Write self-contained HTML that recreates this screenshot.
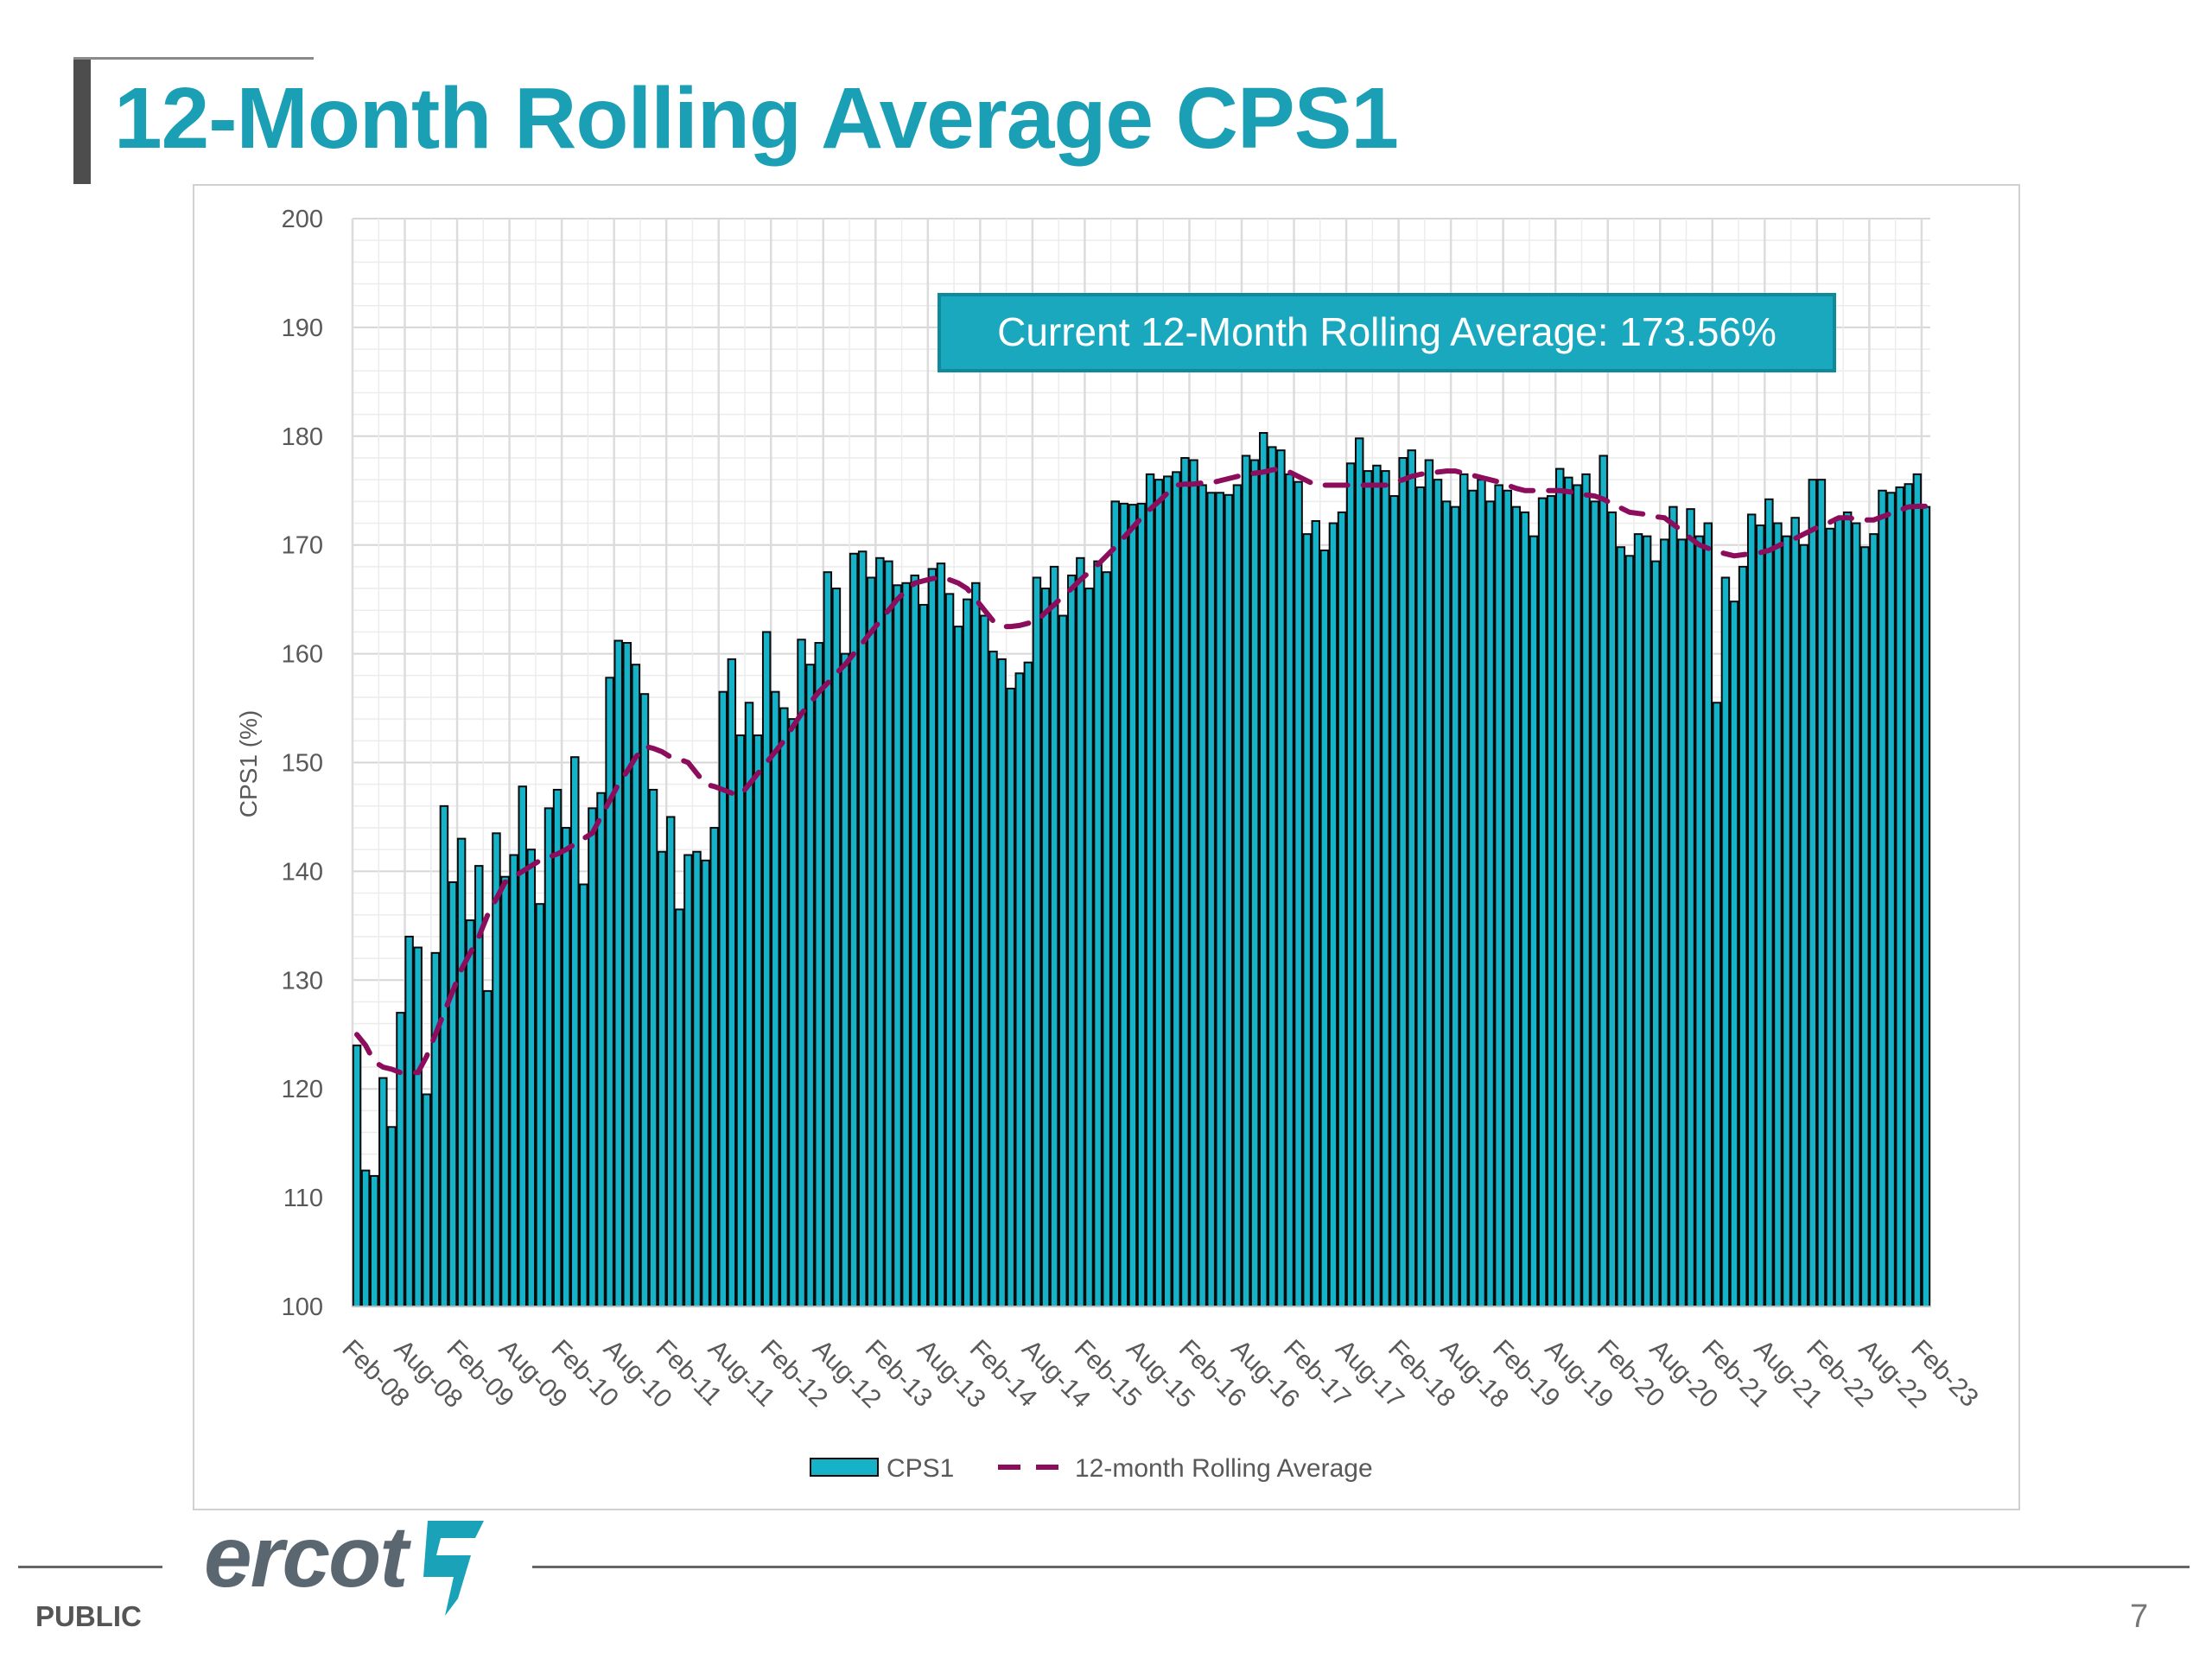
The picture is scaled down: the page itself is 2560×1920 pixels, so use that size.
<!DOCTYPE html>
<html><head><meta charset="utf-8">
<style>
html,body{margin:0;padding:0;background:#fff;}
body{width:2560px;height:1920px;position:relative;overflow:hidden;font-family:"Liberation Sans",sans-serif;}
</style></head>
<body>
<div style="position:absolute;left:85px;top:66px;width:20px;height:147px;background:#4d4d4d"></div>
<div style="position:absolute;left:85px;top:66px;width:278px;height:3px;background:#8a8a8a"></div>
<div style="position:absolute;left:132px;top:80px;font-size:100px;font-weight:bold;color:#1a9fb5;letter-spacing:-1px;white-space:nowrap">12-Month Rolling Average CPS1</div>
<svg id="chart" width="2560" height="1920" style="position:absolute;left:0;top:0" xmlns="http://www.w3.org/2000/svg"></svg>
<div style="position:absolute;left:21px;top:1812px;width:167px;height:3px;background:#666"></div>
<div style="position:absolute;left:616px;top:1812px;width:1918px;height:3px;background:#666"></div>
<div style="position:absolute;left:236px;top:1745px;font-size:100px;font-style:italic;font-weight:bold;color:#5b6770;letter-spacing:-2px">ercot</div>
<svg style="position:absolute;left:470px;top:1755px" width="100" height="120"><path d="M25 5 L90 5 L80 25 L40 25 L35 45 L75 45 L60 95 L45 115 L55 70 L20 70 Z" fill="#1aa3b8"/></svg>
<div style="position:absolute;left:41px;top:1852px;font-size:33px;font-weight:bold;color:#555">PUBLIC</div>
<div style="position:absolute;left:2465px;top:1850px;font-size:38px;color:#777">7</div>
<script>
const cps1Values = [124,112.5,112,121,116.5,127,134,133,119.5,132.5,
146,139,143,135.5,140.5,129,143.5,139.5,141.5,147.8,
142,137,145.8,147.5,144,150.5,138.8,145.8,147.2,157.8,
161.2,161,159,156.3,147.5,141.8,145,136.5,141.5,141.8,
141,144,156.5,159.5,152.5,155.5,152.5,162,156.5,155,
154,161.3,159,161,167.5,166,160,169.2,169.4,167,
168.8,168.5,166.3,166.5,167.2,164.5,167.8,168.3,165.5,162.5,
165,166.5,163.5,160.2,159.5,156.8,158.2,159.2,167,166,
168,163.5,167.2,168.8,166,168.5,167.5,174,173.8,173.7,
173.8,176.5,176,176.3,176.7,178,177.8,175.5,174.8,174.8,
174.6,175.5,178.2,177.8,180.3,179,178.7,176.5,175.8,171,
172.2,169.5,172,173,177.5,179.8,176.8,177.3,176.8,174.5,
178,178.7,175.3,177.8,176,174,173.5,176.5,175,
176,174,175.5,175,173.5,173,170.8,174.3,174.5,177,
176.2,175.5,176.5,174,178.2,173,169.8,169,171,170.8,
168.5,170.5,173.5,170.5,173.3,170.8,172,155.5,167,164.8,
168,172.8,171.8,174.2,172,170.8,172.5,170,176,176,
171.5,172.5,173,172,169.8,171,175,174.8,175.3,175.6,
176.5,173.5];
const rollingValues = [125,124,122.5,122,121.8,121.5,121.5,121.5,123,125,
127,129,131,132.5,134,136,137.5,139,139.5,140,
140.5,141,141.3,141.6,142,142.5,143,143.5,145,146.5,
148,149.2,150.5,151.5,151.3,151,150.5,150.3,150,149,
148,147.8,147.5,147.2,147,148,149,150,151,152,
153.3,154.5,155.5,156.5,157.3,158.2,159,160,161,162,
163,164,165,165.8,166.5,166.7,166.9,167,166.8,166.5,
166,165,164,163,162.5,162.5,162.6,162.8,163,163.8,
164.5,165.3,166,166.8,167.5,168.2,169,169.8,170.7,171.6,
172.5,173.3,174,174.8,175.5,175.6,175.6,175.7,175.7,175.9,
176.1,176.3,176.5,176.6,176.7,176.9,177,176.7,176.3,175.9,
175.5,175.5,175.5,175.5,175.5,175.5,175.5,175.5,175.5,175.8,
176,176.3,176.5,176.6,176.7,176.8,176.8,176.6,176.4,176.2,
176,175.8,175.5,175.2,175,175,175,175,175,174.9,
174.8,174.6,174.5,174.2,173.8,173.4,173,172.9,172.8,172.6,
172.5,171.9,171.3,170.6,170,169.7,169.4,169.2,169,169.1,
169.2,169.3,169.5,169.9,170.3,170.6,171,171.4,171.8,172.1,
172.5,172.5,172.4,172.3,172.3,172.6,172.9,173.2,173.5,173.55,173.56];
const xTickLabels = ["Feb-08","Aug-08","Feb-09","Aug-09","Feb-10","Aug-10","Feb-11","Aug-11","Feb-12","Aug-12","Feb-13","Aug-13","Feb-14","Aug-14","Feb-15","Aug-15","Feb-16","Aug-16","Feb-17","Aug-17","Feb-18","Aug-18","Feb-19","Aug-19","Feb-20","Aug-20","Feb-21","Aug-21","Feb-22","Aug-22","Feb-23"];
const yTickLabels = [100,110,120,130,140,150,160,170,180,190,200];

const svg = document.getElementById('chart');
const NS = 'http://www.w3.org/2000/svg';
const L=408,R=2234,T=253,B=1512,yMin=100,yMax=200;
const n = cps1Values.length;
const pitch = (R-L)/n;
const xS = i => L + i*pitch;
const yS = v => B - (v-yMin)/(yMax-yMin)*(B-T);
function mk(tag, attrs){const e=document.createElementNS(NS,tag);for(const k in attrs)e.setAttribute(k,attrs[k]);svg.appendChild(e);return e;}

let box = mk('rect',{x:224,y:214,width:2113,height:1533,fill:'#fff',stroke:'#d0d0d0','stroke-width':2});



// grid
for(let v=yMin; v<=yMax; v+=2){
  const g=mk('line',{x1:L,x2:R,y1:yS(v),y2:yS(v),stroke:(v%10===0)?'#d6d6d6':'#ececec','stroke-width':(v%10===0)?2:1.5});
  
  
}
for(let i=0;i<=n;i+=3){
  const g=mk('line',{x1:xS(i),x2:xS(i),y1:T,y2:B,stroke:(i%6===0)?'#dcdcdc':'#ececec','stroke-width':(i%6===0)?2.5:1.5});
  
  
}
// y ticks
yTickLabels.forEach(v=>{
  const t=mk('text',{x:374,y:yS(v)+10,'text-anchor':'end','font-size':29,fill:'#595959','font-family':'Liberation Sans, sans-serif'});
  t.textContent=v;
  
  
});
const yt=mk('text',{x:0,y:0,transform:'translate(297,884) rotate(-90)','text-anchor':'middle','font-size':28,fill:'#595959','font-family':'Liberation Sans, sans-serif'});
yt.textContent='CPS1 (%)';



// bars
cps1Values.forEach((v,i)=>{
  const b=mk('rect',{x:xS(i)+0.8,y:yS(v),width:pitch-1.6,height:B-yS(v),fill:'#16b2c8',stroke:'#0a0a0a','stroke-width':2});
  
  
});
// axis
const ax=mk('line',{x1:L,x2:R,y1:B,y2:B,stroke:'#bfbfbf','stroke-width':2});



// rolling line
let d='';
rollingValues.forEach((v,i)=>{d+=(i?'L':'M')+(xS(i)+pitch/2).toFixed(1)+' '+yS(v).toFixed(1)+' ';});
const rl=mk('path',{d:d,fill:'none',stroke:'#8c0d5c','stroke-width':6,'stroke-dasharray':'26 18','stroke-linecap':'round'});



// x labels
xTickLabels.forEach((lab,k)=>{
  const x=xS(k*6)+pitch/2-4, y=1548;
  const t=mk('text',{x:x,y:y,transform:`rotate(45 ${x} ${y})`,'font-size':30,fill:'#595959','font-family':'Liberation Sans, sans-serif','dominant-baseline':'hanging'});
  t.textContent=lab;
  
  
});

// annotation
const ab=mk('rect',{x:1087,y:341,width:1036,height:88,fill:'#1aa8be',stroke:'#10899c','stroke-width':4});


const at=mk('text',{x:1605,y:400,'text-anchor':'middle','font-size':46,fill:'#fff','font-family':'Liberation Sans, sans-serif'});
at.textContent='Current 12-Month Rolling Average: 173.56%';



// legend
const ls=mk('rect',{x:938,y:1688,width:78,height:20,fill:'#16b2c8',stroke:'#0a0a0a','stroke-width':2});


const lt1=mk('text',{x:1026,y:1709,'font-size':30,fill:'#595959','font-family':'Liberation Sans, sans-serif'});
lt1.textContent='CPS1';


const ll=mk('line',{x1:1155,x2:1228,y1:1698,y2:1698,stroke:'#8c0d5c','stroke-width':6,'stroke-dasharray':'26 18'});


const lt2=mk('text',{x:1244,y:1709,'font-size':30,fill:'#595959','font-family':'Liberation Sans, sans-serif'});
lt2.textContent='12-month Rolling Average';


</script>
</body></html>
